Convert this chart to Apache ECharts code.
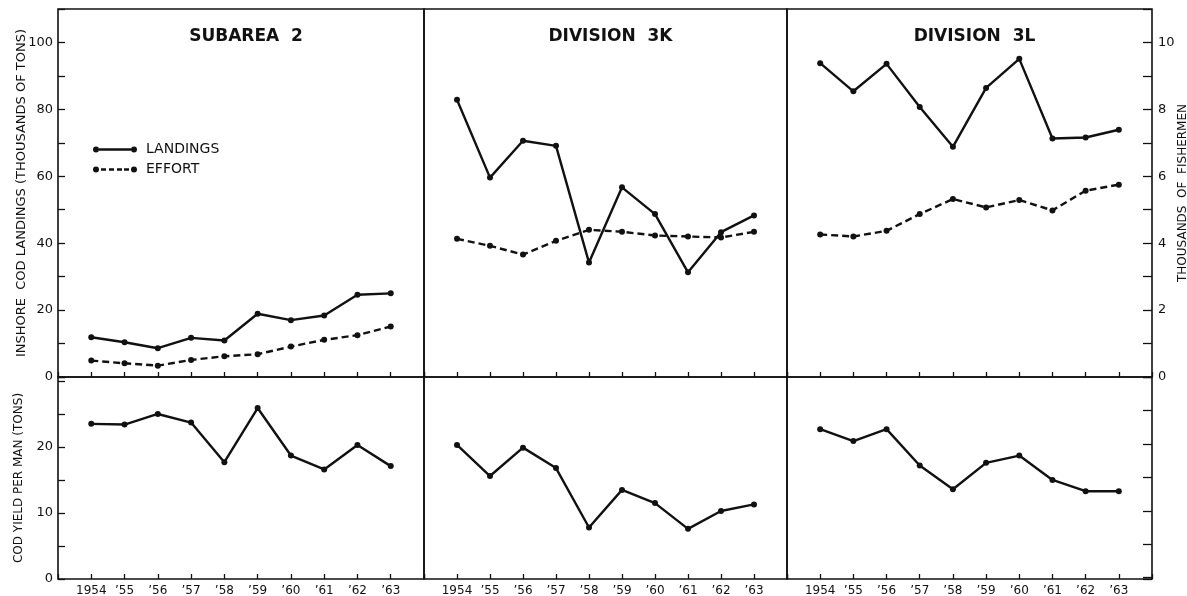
<!DOCTYPE html>
<html>
<head>
<meta charset="utf-8">
<script src="https://cdn.jsdelivr.net/npm/echarts@6/dist/echarts.min.js"></script>
<style>
  html, body { margin: 0; padding: 0; background: #ffffff; }
  #chart { width: 1187px; height: 596px; }
</style>
</head>
<body>
<div id="chart"></div>
<script>
// Years on the horizontal axis of every panel
const years = [1954, 1955, 1956, 1957, 1958, 1959, 1960, 1961, 1962, 1963];
const yearTickLabels = ['1954', '\u201955', '\u201956', '\u201957', '\u201958', '\u201959', '\u201960', '\u201961', '\u201962', '\u201963'];

// Panel titles
const areaNames = ['SUBAREA  2', 'DIVISION  3K', 'DIVISION  3L'];

// Inshore cod landings, thousands of tons
const landingsSubarea2 = [11.9, 10.4, 8.6, 11.7, 10.9, 18.9, 17.0, 18.4, 24.6, 25.0];
const landingsDiv3K = [82.9, 59.6, 70.6, 69.1, 34.2, 56.7, 48.7, 31.3, 43.3, 48.3];
const landingsDiv3L = [93.8, 85.4, 93.6, 80.7, 68.8, 86.4, 95.1, 71.3, 71.6, 73.9];

// Fishing effort, thousands of fishermen
const effortSubarea2 = [0.49, 0.41, 0.34, 0.51, 0.62, 0.68, 0.91, 1.11, 1.25, 1.51];
const effortDiv3K = [4.13, 3.92, 3.66, 4.07, 4.40, 4.34, 4.23, 4.20, 4.17, 4.34];
const effortDiv3L = [4.26, 4.20, 4.37, 4.87, 5.32, 5.07, 5.29, 4.98, 5.57, 5.75];

// Cod yield per man, tons
const yieldSubarea2 = [23.5, 23.4, 25.0, 23.7, 17.7, 25.9, 18.7, 16.6, 20.3, 17.1];
const yieldDiv3K = [20.3, 15.6, 19.9, 16.8, 7.8, 13.5, 11.5, 7.6, 10.3, 11.3];
const yieldDiv3L = [22.7, 20.9, 22.7, 17.2, 13.6, 17.6, 18.7, 15.0, 13.3, 13.3];

// Tick labels
const landingsTickLabels = [0, 20, 40, 60, 80, 100];
const fishermenTickLabels = [0, 2, 4, 6, 8, 10];
const yieldTickLabels = [0, 10, 20];

const INK = '#111111';
const FONT = 'DejaVu Sans';

const landingsSets = [landingsSubarea2, landingsDiv3K, landingsDiv3L];
const effortSets = [effortSubarea2, effortDiv3K, effortDiv3L];
const yieldSets = [yieldSubarea2, yieldDiv3K, yieldDiv3L];

const pairs = (vals) => years.map((y, i) => [y, vals[i]]);

// Panel columns and the two rows (landings/effort above, yield below)
const columns = [
  { left: 58, width: 366 },
  { left: 424, width: 363 },
  { left: 787, width: 365 }
];
const upperRow = { top: 9, height: 368 };
const lowerRow = { top: 377, height: 202 };

const grids = [];
columns.forEach(c => grids.push({ left: c.left, width: c.width, top: upperRow.top, height: upperRow.height }));
columns.forEach(c => grids.push({ left: c.left, width: c.width, top: lowerRow.top, height: lowerRow.height }));
grids.forEach(g => Object.assign(g, {
  show: true, borderColor: INK, borderWidth: 1.6,
  containLabel: false, outerBoundsMode: 'none'
}));

const xAxes = grids.map((g, i) => ({
  type: 'value',
  gridIndex: i,
  min: 1953,
  max: 1964,
  interval: 1,
  axisLine: { show: false },
  splitLine: { show: false },
  axisTick: { show: true, inside: true, length: 5, lineStyle: { color: INK, width: 1.3 } },
  axisLabel: i >= 3 ? {
    show: true,
    margin: 6,
    color: INK,
    fontFamily: FONT,
    fontSize: 12,
    formatter: v => { const k = years.indexOf(v); return k >= 0 ? yearTickLabels[k] : ''; }
  } : { show: false }
}));

const fishermenPerPx = 11 / upperRow.height;

const hiddenValueAxis = (grid, min, max, interval) => ({
  type: 'value', gridIndex: grid, min, max, interval,
  axisLine: { show: false }, axisTick: { show: false },
  axisLabel: { show: false }, splitLine: { show: false }
});

const yAxes = [
  // 0: landings, first panel, labelled
  {
    type: 'value', gridIndex: 0, min: 0, max: 110, interval: 10,
    axisLine: { show: false }, splitLine: { show: false },
    axisTick: { show: true, inside: true, length: 7, lineStyle: { color: INK, width: 1.3 } },
    axisLabel: {
      color: INK, fontFamily: FONT, fontSize: 13, margin: 5,
      formatter: v => landingsTickLabels.includes(v) ? String(v) : ''
    },
    name: 'INSHORE  COD LANDINGS (THOUSANDS OF TONS)',
    nameLocation: 'middle', nameGap: 30, nameRotate: 90, nameMoveOverlap: false,
    nameTextStyle: { color: INK, fontFamily: FONT, fontSize: 13 }
  },
  // 1, 2: landings, other panels
  hiddenValueAxis(1, 0, 110, 10),
  hiddenValueAxis(2, 0, 110, 10),
  // 3, 4: effort, first two panels
  hiddenValueAxis(0, 0, 11, 1),
  hiddenValueAxis(1, 0, 11, 1),
  // 5: effort, last panel, labelled on the right
  {
    type: 'value', gridIndex: 2, position: 'right', min: 0, max: 11, interval: 1,
    axisLine: { show: false }, splitLine: { show: false },
    axisTick: { show: true, inside: true, length: 9, lineStyle: { color: INK, width: 1.3 } },
    axisLabel: {
      color: INK, fontFamily: FONT, fontSize: 13, margin: 6,
      formatter: v => fishermenTickLabels.includes(v) ? String(v) : ''
    },
    name: 'THOUSANDS  OF  FISHERMEN',
    nameLocation: 'middle', nameGap: 25, nameRotate: 90, nameMoveOverlap: false,
    nameTextStyle: { color: INK, fontFamily: FONT, fontSize: 12 }
  },
  // 6: yield, first panel, labelled
  {
    type: 'value', gridIndex: 3, min: 0, max: 30.6, interval: 5,
    axisLine: { show: false }, splitLine: { show: false },
    axisTick: { show: true, inside: true, length: 7, lineStyle: { color: INK, width: 1.3 } },
    axisLabel: {
      color: INK, fontFamily: FONT, fontSize: 13, margin: 5,
      formatter: v => yieldTickLabels.includes(v) ? String(v) : ''
    },
    name: 'COD YIELD PER MAN (TONS)',
    nameLocation: 'middle', nameGap: 33, nameRotate: 90, nameMoveOverlap: false,
    nameTextStyle: { color: INK, fontFamily: FONT, fontSize: 12 }
  },
  // 7, 8: yield, other panels
  hiddenValueAxis(4, 0, 30.6, 5),
  hiddenValueAxis(5, 0, 30.6, 5),
  // 9: right-hand ticks below the zero line, continuing the fishermen spacing
  {
    type: 'value', gridIndex: 5, position: 'right', inverse: true,
    min: 0, max: lowerRow.height * fishermenPerPx, interval: 1,
    axisLine: { show: false }, splitLine: { show: false },
    axisTick: { show: true, inside: true, length: 9, lineStyle: { color: INK, width: 1.3 } },
    axisLabel: { show: false }
  }
];

const lineBase = {
  type: 'line',
  symbol: 'circle',
  symbolSize: 6,
  itemStyle: { color: INK, borderWidth: 0 },
  z: 3,
  animation: false
};

const series = [];
for (let p = 0; p < 3; p++) {
  series.push(Object.assign({}, lineBase, {
    name: 'LANDINGS', xAxisIndex: p, yAxisIndex: p,
    data: pairs(landingsSets[p]),
    lineStyle: { color: INK, width: 2.4 }
  }));
  series.push(Object.assign({}, lineBase, {
    name: 'EFFORT', xAxisIndex: p, yAxisIndex: 3 + p,
    data: pairs(effortSets[p]),
    lineStyle: { color: INK, width: 2.4, type: [7, 4] }
  }));
  series.push(Object.assign({}, lineBase, {
    name: 'YIELD PER MAN', xAxisIndex: 3 + p, yAxisIndex: 6 + p,
    data: pairs(yieldSets[p]),
    lineStyle: { color: INK, width: 2.4 }
  }));
}

// Legend keys: a line with a dot at each end
const ends = 'M0,3a3,3 0 1,0 6,0a3,3 0 1,0 -6,0z M38,3a3,3 0 1,0 6,0a3,3 0 1,0 -6,0z ';
const solidIcon = 'path://' + ends + 'M6,1.8H38V4.2H6z';
const dashedIcon = 'path://' + ends + 'M8,1.8H13V4.2H8z M16,1.8H21V4.2H16z M24,1.8H29V4.2H24z M31,1.8H36V4.2H31z';

const titles = areaNames.map((t, i) => ({
  text: t,
  left: columns[i].left + columns[i].width / 2,
  top: 23,
  textAlign: 'center',
  textStyle: { color: INK, fontFamily: FONT, fontSize: 17, fontWeight: 'bold' }
}));

const chart = echarts.init(document.getElementById('chart'), null, { renderer: 'canvas' });
chart.setOption({
  backgroundColor: '#ffffff',
  animation: false,
  title: titles,
  legend: {
    data: [
      { name: 'LANDINGS', icon: solidIcon },
      { name: 'EFFORT', icon: dashedIcon }
    ],
    orient: 'vertical',
    left: 93,
    top: 142,
    padding: 0,
    itemWidth: 44,
    itemHeight: 6,
    itemGap: 5,
    selectedMode: false,
    itemStyle: { color: INK, borderWidth: 0 },
    textStyle: { color: INK, fontFamily: FONT, fontSize: 14, lineHeight: 15, padding: [0, 0, 0, 4] }
  },
  grid: grids,
  xAxis: xAxes,
  yAxis: yAxes,
  series: series
});
</script>
</body>
</html>
